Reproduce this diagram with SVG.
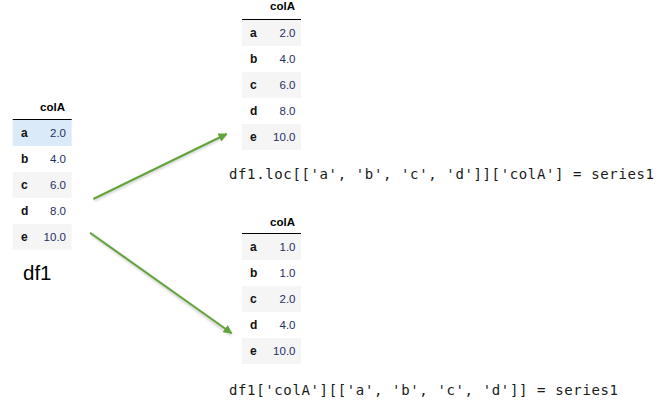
<svg xmlns="http://www.w3.org/2000/svg" width="672" height="409" viewBox="0 0 672 409">
<defs>
<style>
.hd{font-family:"Liberation Sans",Arial,sans-serif;font-size:11.5px;font-weight:bold;fill:#000;text-anchor:end}
.lb{font-family:"Liberation Sans",Arial,sans-serif;font-size:12px;font-weight:bold;fill:#111}
.v{font-family:"Liberation Sans",Arial,sans-serif;font-size:11.5px;fill:#1f2f63;text-anchor:end}
.odd{fill:#f5f5f5}
.sel{fill:#dbeaf8}
.rule{stroke:#000;stroke-width:1}
.code{font-family:"DejaVu Sans Mono","Liberation Mono",monospace;font-size:14px;fill:#1a1a1a}
.arr{stroke:#62a33a;stroke-width:2;fill:none;marker-end:url(#ah)}
.sh{stroke:#000;stroke-opacity:0.18;stroke-width:2.5;fill:none}
</style>
<marker id="ah" viewBox="0 0 10 10" refX="9" refY="5" markerWidth="4.5" markerHeight="4.5" orient="auto" markerUnits="strokeWidth">
<path d="M0,0 L10,5 L0,10 z" fill="#62a33a"/>
</marker>
<filter id="blur" x="-10%" y="-10%" width="120%" height="120%"><feGaussianBlur stdDeviation="1"/></filter>
</defs>
<rect width="672" height="409" fill="#fff"/>

<g id="df1">
<text class="hd" x="65" y="110.5">colA</text>
<line class="rule" x1="12.7" y1="119.5" x2="71.7" y2="119.5"/>
<rect class="sel" x="12.7" y="120" width="59" height="26"/>
<rect class="odd" x="12.7" y="172" width="59" height="26"/>
<rect class="odd" x="12.7" y="224" width="59" height="26"/>
<text class="lb" x="21" y="137">a</text><text class="v" x="66" y="137">2.0</text>
<text class="lb" x="21" y="163">b</text><text class="v" x="66" y="163">4.0</text>
<text class="lb" x="21" y="189">c</text><text class="v" x="66" y="189">6.0</text>
<text class="lb" x="21" y="215">d</text><text class="v" x="66" y="215">8.0</text>
<text class="lb" x="21" y="241">e</text><text class="v" x="66" y="241">10.0</text>
<text x="23" y="279.5" style="font-family:'Liberation Sans',Arial,sans-serif;font-size:20.5px;fill:#000">df1</text>
</g>

<g id="result1">
<text class="hd" x="295" y="10">colA</text>
<line class="rule" x1="242" y1="19.5" x2="301" y2="19.5"/>
<rect class="odd" x="242" y="20" width="59" height="26"/>
<rect class="odd" x="242" y="72" width="59" height="26"/>
<rect class="odd" x="242" y="124" width="59" height="26"/>
<text class="lb" x="250" y="37">a</text><text class="v" x="295.5" y="37">2.0</text>
<text class="lb" x="250" y="63">b</text><text class="v" x="295.5" y="63">4.0</text>
<text class="lb" x="250" y="89">c</text><text class="v" x="295.5" y="89">6.0</text>
<text class="lb" x="250" y="115">d</text><text class="v" x="295.5" y="115">8.0</text>
<text class="lb" x="250" y="141">e</text><text class="v" x="295.5" y="141">10.0</text>
<text class="code" x="229" y="179" textLength="425" lengthAdjust="spacing">df1.loc[['a', 'b', 'c', 'd']]['colA'] = series1</text>
</g>

<g id="result2">
<text class="hd" x="295" y="225.5">colA</text>
<line class="rule" x1="242" y1="233.5" x2="301" y2="233.5"/>
<rect class="odd" x="242" y="234" width="59" height="26"/>
<rect class="odd" x="242" y="286" width="59" height="26"/>
<rect class="odd" x="242" y="338" width="59" height="26"/>
<text class="lb" x="250" y="251">a</text><text class="v" x="295.5" y="251">1.0</text>
<text class="lb" x="250" y="277">b</text><text class="v" x="295.5" y="277">1.0</text>
<text class="lb" x="250" y="303">c</text><text class="v" x="295.5" y="303">2.0</text>
<text class="lb" x="250" y="329">d</text><text class="v" x="295.5" y="329">4.0</text>
<text class="lb" x="250" y="355">e</text><text class="v" x="295.5" y="355">10.0</text>
<text class="code" x="229" y="395" textLength="389" lengthAdjust="spacing">df1['colA'][['a', 'b', 'c', 'd']] = series1</text>
</g>

<g id="connectors">
<line class="sh" filter="url(#blur)" x1="94.5" y1="200.5" x2="226" y2="136"/>
<line class="sh" filter="url(#blur)" x1="91.5" y1="234.5" x2="231" y2="335"/>
<line class="arr" x1="93.3" y1="199" x2="226.7" y2="134"/>
<line class="arr" x1="90" y1="232.7" x2="231.7" y2="333.3"/>
</g>
</svg>
